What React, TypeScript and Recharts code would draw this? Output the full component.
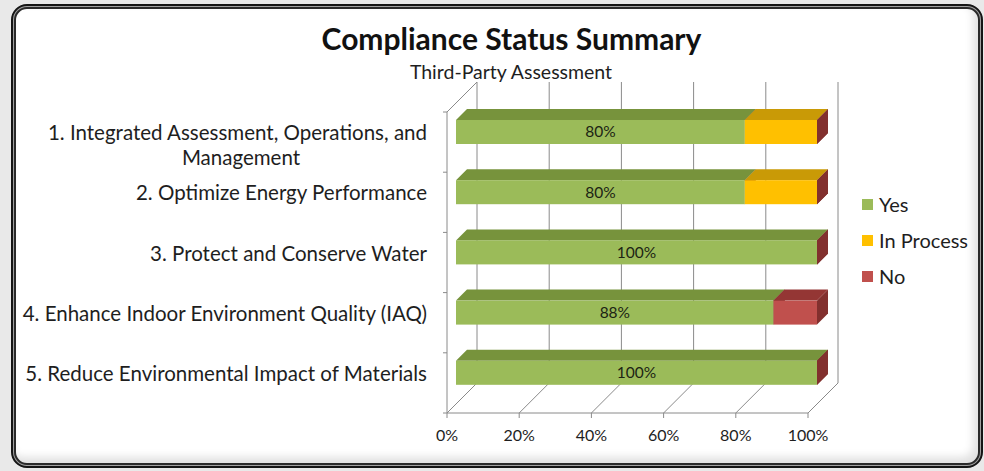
import React from "react";
import { BarChart, Bar, XAxis, YAxis, CartesianGrid, Legend, LabelList } from "recharts";

const CATEGORIES = [
  "1. Integrated Assessment, Operations, and\nManagement",
  "2. Optimize Energy Performance",
  "3. Protect and Conserve Water",
  "4. Enhance Indoor Environment Quality (IAQ)",
  "5. Reduce Environmental Impact of Materials",
];
const YES = [80, 80, 100, 88, 100];
const IN_PROCESS = [20, 20, 0, 0, 0];
const NO = [0, 0, 0, 12, 0];
const X_TICKS = [0, 20, 40, 60, 80, 100];

const data = CATEGORIES.map((name, i) => ({
  name,
  yes: YES[i],
  inProcess: IN_PROCESS[i],
  no: NO[i],
}));

const W = 984;
const H = 471;
const PLOT_LEFT = 447;
const PLOT_TOP = 112;
const PLOT_BOTTOM = 413;
const BAND = (PLOT_BOTTOM - PLOT_TOP) / CATEGORIES.length;
const DEPTH = 30; // wall depth
const BAR_DX = 9; // bar front offset into the depth
const BAR_DY = -10;
const BAR_D = 11; // bar thickness
const FONT = "Lato, 'Open Sans', sans-serif";
const AXIS = "#8a8a8a";
const SIDE = "#82302e";
const TEXT = "#1e1e1e";

const SERIES = [
  { key: "yes", name: "Yes", front: "#9bbb59", top: "#77933c" },
  { key: "inProcess", name: "In Process", front: "#ffc000", top: "#c99a06" },
  { key: "no", name: "No", front: "#c0504d", top: "#943634" },
];

const make3D = (front: string, top: string) => (props: any) => {
  const { x, y, width, height } = props;
  const fx = x + BAR_DX;
  const fy = y + BAR_DY;
  const d = BAR_D;
  return (
    <g>
      <polygon
        points={`${fx + width},${fy} ${fx + width + d},${fy - d} ${fx + width + d},${fy + height - d} ${fx + width},${fy + height}`}
        fill={SIDE}
      />
      {width > 0 && (
        <polygon
          points={`${fx},${fy} ${fx + d},${fy - d} ${fx + width + d},${fy - d} ${fx + width},${fy}`}
          fill={top}
        />
      )}
      {width > 0 && <rect x={fx} y={fy} width={width} height={height} fill={front} />}
    </g>
  );
};

const CategoryTick = (props: any) => {
  const { x, y, payload, index } = props;
  const lines = String(payload.value).split("\n");
  return (
    <g>
      <line x1={PLOT_LEFT - 4} x2={PLOT_LEFT} y1={y - BAND / 2} y2={y - BAND / 2} stroke={AXIS} />
      {index === CATEGORIES.length - 1 && (
        <line x1={PLOT_LEFT - 4} x2={PLOT_LEFT} y1={y + BAND / 2} y2={y + BAND / 2} stroke={AXIS} />
      )}
      <text x={x} y={y - 9} dy="0.35em" textAnchor="end" fontSize={20.5} fill={TEXT} fontFamily={FONT}>
        {lines[0]}
      </text>
      {lines[1] && (
        <text x={x - 186} y={y + 16} dy="0.35em" textAnchor="middle" fontSize={20.5} fill={TEXT} fontFamily={FONT}>
          {lines[1]}
        </text>
      )}
    </g>
  );
};

const GridLine = (p: any) => {
  const { x1, y1, y2 } = p;
  const first = Math.abs(x1 - PLOT_LEFT) < 1;
  return (
    <g key={`v-${x1}`}>
      <line x1={x1 + DEPTH} x2={x1 + DEPTH} y1={y1 - DEPTH} y2={y2 - DEPTH} stroke={AXIS} />
      <line x1={x1} x2={x1 + DEPTH} y1={y2} y2={y2 - DEPTH} stroke={AXIS} />
      {first && <line x1={x1} x2={x1 + DEPTH} y1={y1} y2={y1 - DEPTH} stroke={AXIS} />}
    </g>
  );
};

const YesLabel = (props: any) => {
  const { x, y, width, height, value } = props;
  return (
    <text
      x={x + BAR_DX + width / 2}
      y={y + BAR_DY + height / 2}
      dy="0.35em"
      textAnchor="middle"
      fontSize={15.5}
      fill="#1c2414"
      fontFamily={FONT}
    >
      {`${value}%`}
    </text>
  );
};

const LegendContent = () => (
  <div style={{ fontFamily: FONT, fontSize: 20, color: TEXT }}>
    {SERIES.map((s) => (
      <div key={s.key} style={{ display: "flex", alignItems: "center", height: 36 }}>
        <span style={{ width: 11, height: 11, background: s.front, marginRight: 6, display: "inline-block" }} />
        {s.name}
      </div>
    ))}
  </div>
);

export default function App() {
  return (
    <div style={{ position: "absolute", left: 0, top: 0, width: W, height: H, background: "#e9e9e9", overflow: "hidden" }}>
      <div
        style={{
          position: "absolute",
          left: 11,
          top: 4,
          width: 972,
          height: 464,
          boxSizing: "border-box",
          border: "2px solid #151515",
          borderRadius: 16,
          background: "#a0a0a0",
          padding: 1,
        }}
      >
        <div
          style={{
            width: "100%",
            height: "100%",
            boxSizing: "border-box",
            border: "2px solid #2a2a2a",
            borderRadius: 13,
            background: "#ffffff",
            boxShadow: "inset -5px -6px 8px rgba(0,0,0,0.12)",
          }}
        />
      </div>
      <div
        style={{
          position: "absolute",
          left: 0,
          width: W,
          top: 20,
          textAlign: "center",
          fontFamily: FONT,
          fontWeight: 700,
          fontSize: 30,
          lineHeight: 1.2,
          color: "#111",
          paddingLeft: 39,
          boxSizing: "border-box",
        }}
      >
        Compliance Status Summary
      </div>
      <div
        style={{
          position: "absolute",
          left: 0,
          width: W,
          top: 60,
          textAlign: "center",
          fontFamily: FONT,
          fontSize: 19.5,
          lineHeight: 1.2,
          color: TEXT,
          paddingLeft: 38,
          boxSizing: "border-box",
        }}
      >
        Third-Party Assessment
      </div>
      <div style={{ position: "absolute", left: 0, top: 0 }}>
        <BarChart
          width={W}
          height={H}
          data={data}
          layout="vertical"
          barSize={24}
          margin={{ top: PLOT_TOP, right: W - 808, bottom: H - PLOT_BOTTOM - 30, left: 0 }}
        >
          <CartesianGrid horizontal={false} vertical={GridLine as any} />
          <XAxis
            type="number"
            domain={[0, 100]}
            ticks={X_TICKS}
            tickFormatter={(v) => `${v}%`}
            height={30}
            tickSize={5}
            tickMargin={12}
            axisLine={{ stroke: AXIS }}
            tickLine={{ stroke: AXIS }}
            tick={{ fontSize: 16, fill: TEXT, fontFamily: FONT }}
          />
          <YAxis
            type="category"
            dataKey="name"
            width={PLOT_LEFT}
            tickSize={4}
            tickMargin={16}
            tickLine={false}
            axisLine={{ stroke: AXIS }}
            tick={<CategoryTick />}
            interval={0}
          />
          <Legend
            layout="vertical"
            align="center"
            verticalAlign="middle"
            wrapperStyle={{ left: 862, top: 186, width: 120 }}
            content={<LegendContent />}
          />
          {SERIES.map((s) => (
            <Bar
              key={s.key}
              dataKey={s.key}
              name={s.name}
              stackId="a"
              fill={s.front}
              shape={make3D(s.front, s.top)}
              isAnimationActive={false}
            >
              {s.key === "yes" && <LabelList dataKey="yes" content={<YesLabel />} />}
            </Bar>
          ))}
        </BarChart>
      </div>
    </div>
  );
}
